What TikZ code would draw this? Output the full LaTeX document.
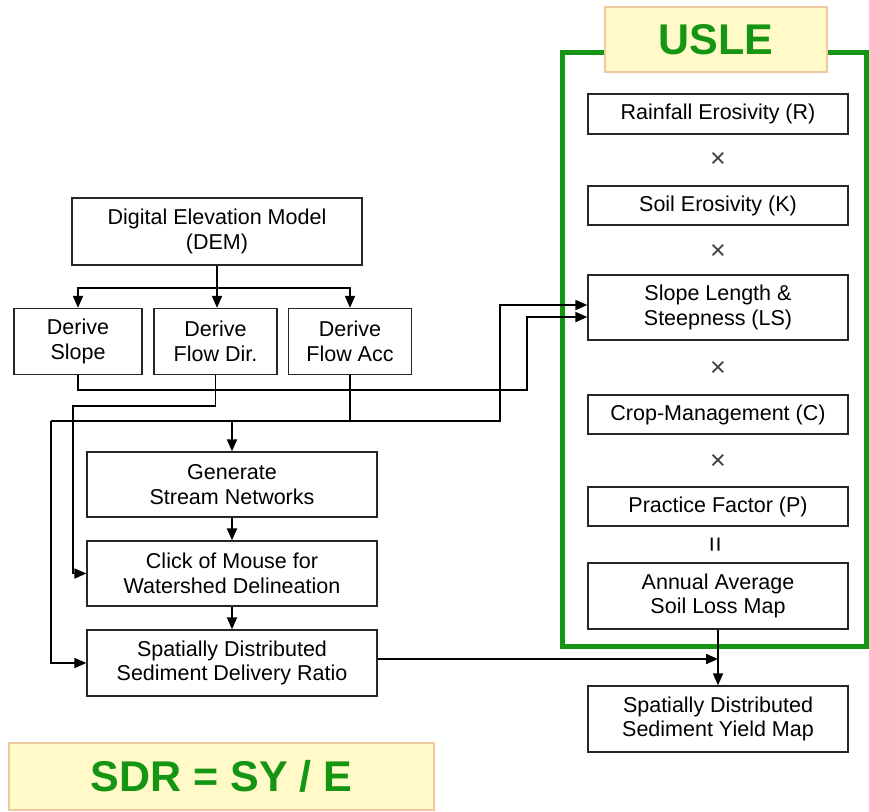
\documentclass[tikz,border=0pt]{standalone}
\usepackage{fontspec}
\setmainfont{Liberation Sans}
\usetikzlibrary{arrows.meta}
\definecolor{usgreen}{RGB}{20,150,20}
\definecolor{titlefill}{RGB}{255,250,200}
\definecolor{titleedge}{RGB}{240,200,160}
\tikzset{
  box/.style={draw=black!85, line width=1.3pt, fill=white, align=center, inner sep=0pt,
    font=\fontsize{21.5}{24.5}\selectfont},
  ln/.style={line width=1.8pt, black},
  arr/.style={ln, -{Triangle[length=12pt,width=10pt]}},
  titlebox/.style={draw=titleedge, line width=1.2pt, fill=titlefill, inner sep=0pt,
    text=usgreen, font=\fontsize{43}{46}\selectfont\bfseries},
  opsym/.style={font=\fontsize{27}{30}\selectfont, text=black!75}
}
\begin{document}
\begin{tikzpicture}[x=1pt,y=-1pt]
\useasboundingbox (0,0) rectangle (869,811);
% USLE frame
\draw[usgreen, line width=5pt] (562,52) rectangle (866,646);
\node[titlebox, minimum width=222pt, minimum height=65pt] (usle) at (716,39.5) {USLE};
% left boxes
\node[box, minimum width=290pt, minimum height=67pt] (dem) at (217,231.5) {Digital Elevation Model\\(DEM)};
\node[box, minimum width=128pt, minimum height=66pt] (slope) at (78,341.5) {Derive\\Slope};
\node[box, minimum width=123pt, minimum height=66pt] (fdir) at (215.5,341.5) {Derive\\Flow Dir.};
\node[box, minimum width=123pt, minimum height=66pt] (facc) at (350,341.5) {Derive\\Flow Acc};
\node[box, minimum width=290pt, minimum height=65pt] (gen) at (232,484.5) {Generate\\Stream Networks};
\node[box, minimum width=290pt, minimum height=65pt] (click) at (232,573.5) {Click of Mouse for\\Watershed Delineation};
\node[box, minimum width=290pt, minimum height=66pt] (sdr) at (232,663) {Spatially Distributed\\Sediment Delivery Ratio};
\node[titlebox, minimum width=425pt, minimum height=67pt] (eq) at (221.5,776.5) {SDR = SY / E};
% right boxes
\node[box, minimum width=260pt, minimum height=40pt] (rain) at (718,114) {Rainfall Erosivity (R)};
\node[opsym] (x1) at (718,160) {×};
\node[box, minimum width=260pt, minimum height=39pt] (soil) at (718,205.5) {Soil Erosivity (K)};
\node[opsym] (x2) at (718,252) {×};
\node[box, minimum width=260pt, minimum height=65pt] (ls) at (718,307.5) {Slope Length \&\\Steepness (LS)};
\node[opsym] (x3) at (718,369) {×};
\node[box, minimum width=260pt, minimum height=39pt] (crop) at (718,414.5) {Crop-Management (C)};
\node[opsym] (x4) at (718,462) {×};
\node[box, minimum width=260pt, minimum height=39pt] (prac) at (718,506.5) {Practice Factor (P)};
\node[opsym, rotate=90, text=black] (eqs) at (718,545) {=};
\node[box, minimum width=260pt, minimum height=66pt] (annual) at (718,596) {Annual Average\\Soil Loss Map};
\node[box, minimum width=260pt, minimum height=66pt] (yield) at (718,719) {Spatially Distributed\\Sediment Yield Map};
% connectors
\draw[ln] (dem.south) -- ++(0,22.5) coordinate (b1);
\draw[arr] (b1) -| (slope.north);
\draw[arr] (b1) -| (facc.north);
\draw[arr] (b1) -- (b1 |- fdir.north);
\coordinate (s1) at (527,390);
\draw[arr] (slope.south) |- (s1) |- ([yshift=-9.5pt]ls.west);
\coordinate (fd) at (73,406);
\draw[arr] (fdir.south) |- (fd) |- (click.west);
\coordinate (h1) at (51,421);
\coordinate (h2) at (500,421);
\draw[ln] (facc.south) -- (facc.south |- h1);
\draw[arr] (h1) -- (h2) |- ([yshift=2.5pt]ls.west);
\draw[arr] (h1) |- (sdr.west);
\draw[arr] (gen.north |- h1) -- (gen.north);
\draw[arr] (gen.south) -- (click.north);
\draw[arr] (click.south) -- (sdr.north);
\draw[arr] ([yshift=4pt]sdr.east) -- ([yshift=4pt]sdr.east -| annual.south);
\draw[arr] (annual.south) -- (yield.north);
\end{tikzpicture}
\end{document}
